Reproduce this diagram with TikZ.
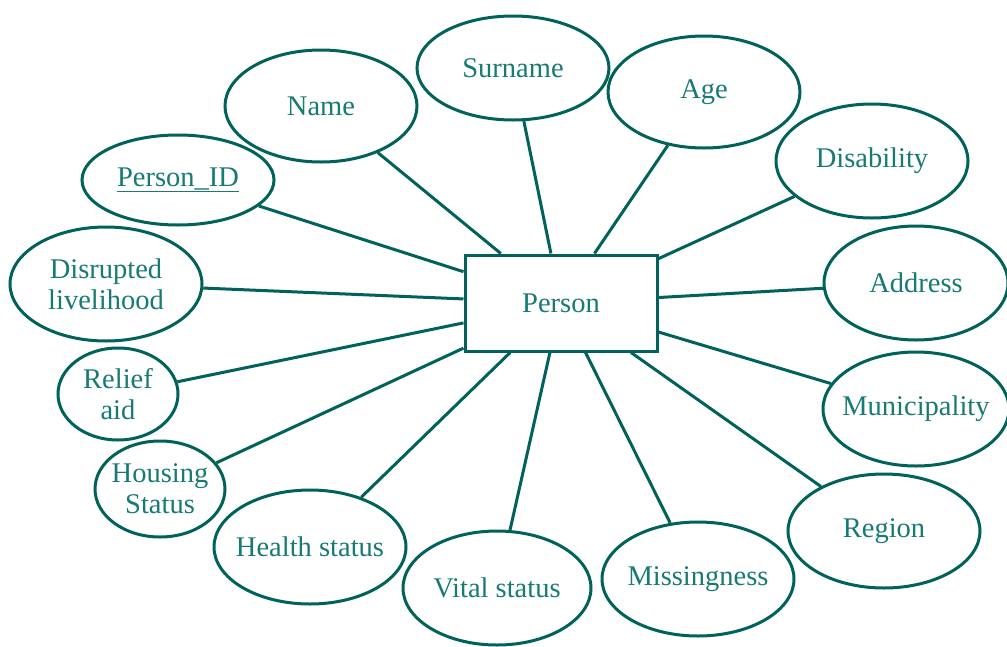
\documentclass[tikz,border=0pt]{standalone}
\usepackage{fontspec}
\setmainfont{Liberation Serif}
\usetikzlibrary{shapes.geometric}
\definecolor{edgeteal}{RGB}{0,98,90}
\definecolor{textteal}{RGB}{23,122,116}
\begin{document}
\begin{tikzpicture}[x=1pt,y=-1pt,
  attrtext/.style={text=textteal, align=center, inner sep=0pt,
    font=\fontsize{28.5}{31}\selectfont},
  attr/.style={ellipse, draw=edgeteal, line width=3pt, inner sep=0pt,
    label={[attrtext]center:#1}},
  entity/.style={rectangle, draw=edgeteal, line width=3pt, inner sep=0pt,
    text=textteal, font=\fontsize{28.5}{31}\selectfont,
    minimum width=192pt, minimum height=96pt},
  link/.style={draw=edgeteal, line width=3pt}]
\useasboundingbox (0,0) rectangle (1007,646);

% central entity
\node[entity] (p) at (561,303) {Person};

% attributes: fixed-size ellipses, text laid on top
\node[attr={Surname}, minimum width=192pt, minimum height=104pt] (surname) at (513,68) {};
\node[attr={Age}, minimum width=192pt, minimum height=112pt] (age) at (704,92) {};
\node[attr={Name}, minimum width=192pt, minimum height=112pt] (name) at (321,106) {};
\node[attr={Disability}, minimum width=192pt, minimum height=114pt] (disab) at (872,161) {};
\node[attr={\underline{Person\_ID}}, minimum width=192pt, minimum height=90pt] (pid) at (178,180) {};
\node[attr={Disrupted\\livelihood}, minimum width=192pt, minimum height=114pt] (disr) at (106,284) {};
\node[attr={Address}, minimum width=184pt, minimum height=114pt] (addr) at (916,283) {};
\node[attr={Relief\\aid}, minimum width=120pt, minimum height=92pt] (relief) at (118,394) {};
\node[attr={Municipality}, minimum width=186pt, minimum height=114pt] (muni) at (916,409) {};
\node[attr={Housing\\Status}, minimum width=130pt, minimum height=96pt] (house) at (160,489) {};
\node[attr={Health status}, minimum width=192pt, minimum height=114pt] (health) at (310,547) {};
\node[attr={Vital status}, minimum width=188pt, minimum height=114pt] (vital) at (497,588) {};
\node[attr={Missingness}, minimum width=192pt, minimum height=114pt] (miss) at (698,579) {};
\node[attr={Region}, minimum width=192pt, minimum height=114pt] (region) at (884,531) {};

% connectors
\foreach \a in {surname,age,name,disab,pid,disr,addr,relief,muni,house,health,vital,miss,region}
  \draw[link] (\a) -- (p);
\end{tikzpicture}
\end{document}
